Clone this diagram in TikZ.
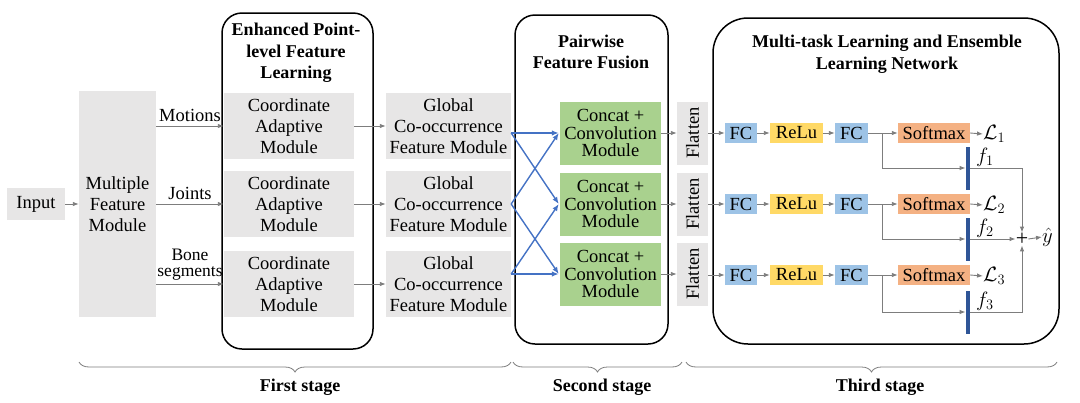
\documentclass[tikz,border=0pt]{standalone}
\usepackage{fontspec}
\setmainfont{Liberation Serif}
\usetikzlibrary{arrows.meta,decorations.pathreplacing,calc}
\definecolor{boxgray}{RGB}{231,230,230}
\definecolor{cgreen}{RGB}{169,209,142}
\definecolor{cblue}{RGB}{157,195,230}
\definecolor{cyellow}{RGB}{255,217,102}
\definecolor{corange}{RGB}{244,177,131}
\definecolor{arrblue}{RGB}{68,114,196}
\definecolor{bardark}{RGB}{47,85,151}
\definecolor{arrgray}{RGB}{125,125,125}
\begin{document}
\begin{tikzpicture}[x=1pt,y=-1pt,
  every node/.style={font=\fontsize{18.5}{21}\selectfont, inner sep=0pt, align=center},
  container/.style={draw=black, line width=1.5pt},
  titletext/.style={font=\bfseries\fontsize{18}{21.5}\selectfont},
  gbox/.style={fill=boxgray},
  greenbox/.style={fill=cgreen, minimum width=101, minimum height=63, font=\fontsize{18.5}{17.5}\selectfont},
  flatbox/.style={fill=boxgray, minimum width=31, minimum height=63},
  fcbox/.style={fill=cblue, minimum height=20},
  relubox/.style={fill=cyellow, minimum height=20, minimum width=53},
  smbox/.style={fill=corange, minimum height=20, minimum width=72},
  fbar/.style={fill=bardark, minimum width=4.5},
  mathlabel/.style={font=\fontsize{22}{22}\selectfont},
  garr/.style={draw=arrgray, line width=0.9pt, -{Latex[length=6pt,width=4.5pt]}},
  barr/.style={draw=arrblue, line width=1.4pt, -{Latex[length=7pt,width=5.5pt]}},
  stagebrace/.style={draw=arrgray, line width=0.8pt, decorate, decoration={brace, mirror, amplitude=10pt}},
  stagelabel/.style={font=\bfseries\fontsize{18}{21}\selectfont}
]
\useasboundingbox (0,0) rectangle (1080,402);

% containers
\draw[container, rounded corners=20] (222,13) rectangle (373,349);
\draw[container, rounded corners=20] (515,15) rectangle (668,344);
\draw[container, rounded corners=35] (713,18) rectangle (1059,344);

\node[titletext] (t1) at (296,53) {Enhanced Point-\\level Feature\\Learning};
\node[titletext] (t2) at (591,52) {Pairwise\\Feature Fusion};
\node[titletext] (t3) at (887,54) {Multi-task Learning and Ensemble\\Learning Network};

% first stage
\node[gbox, minimum width=58, minimum height=32] (inp) at (36,204) {Input};
\node[gbox, minimum width=77, minimum height=226] (mfm) at (117.5,204) {Multiple\\Feature\\Module};
\draw[garr] (inp.east) -- (mfm.west);

\node[gbox, minimum width=130, minimum height=66] (cam1) at (289,126) {Coordinate\\Adaptive\\Module};
\node[gbox, minimum width=130, minimum height=66] (cam2) at (289,204) {Coordinate\\Adaptive\\Module};
\node[gbox, minimum width=130, minimum height=66] (cam3) at (289,284) {Coordinate\\Adaptive\\Module};

\draw[garr] (mfm.east |- cam1) -- node[above=4pt] (lm) {Motions} (cam1.west);
\draw[garr] (mfm.east |- cam2) -- node[above=4pt] (lj) {Joints} (cam2.west);
\draw[garr] (mfm.east |- cam3) -- node[above=3pt, font=\fontsize{17.5}{16}\selectfont] (lb) {Bone\\segments} (cam3.west);

\node[gbox, minimum width=125, minimum height=66] (gc1) at (448.5,126) {Global\\Co-occurrence\\Feature Module};
\node[gbox, minimum width=125, minimum height=66] (gc2) at (448.5,204) {Global\\Co-occurrence\\Feature Module};
\node[gbox, minimum width=125, minimum height=66] (gc3) at (448.5,284) {Global\\Co-occurrence\\Feature Module};
\draw[garr] (cam1.east) -- (gc1.west);
\draw[garr] (cam2.east) -- (gc2.west);
\draw[garr] (cam3.east) -- (gc3.west);

% second stage
\node[greenbox] (g1) at (610.5,133) {Concat +\\Convolution\\Module};
\node[greenbox] (g2) at (610.5,204) {Concat +\\Convolution\\Module};
\node[greenbox] (g3) at (610.5,274) {Concat +\\Convolution\\Module};

\coordinate (s1) at (gc1.east |- g1.west);
\coordinate (s2) at (gc2.east |- g2.west);
\coordinate (s3) at (gc3.east |- g3.west);
\draw[barr] (s1) -- ($(g1.west)+(-1,0)$);
\draw[barr] (s1) -- ($(g2.west)+(-1,0)$);
\draw[barr] (s2) -- ($(g1.west)+(-1,0)$);
\draw[barr] (s2) -- ($(g3.west)+(-1,0)$);
\draw[barr] (s3) -- ($(g2.west)+(-1,0)$);
\draw[barr] (s3) -- ($(g3.west)+(-1,0)$);

\node[flatbox] (fl1) at (692.5,133) {\rotatebox{90}{Flatten}};
\node[flatbox] (fl2) at (692.5,204) {\rotatebox{90}{Flatten}};
\node[flatbox] (fl3) at (692.5,274) {\rotatebox{90}{Flatten}};
\draw[garr] (g1.east) -- (fl1.west);
\draw[garr] (g2.east) -- (fl2.west);
\draw[garr] (g3.east) -- (fl3.west);

% third stage rows
\foreach \r/\y/\by in {1/133/168, 2/204/239, 3/275/312}{
  \node[fcbox, minimum width=32] (fca\r) at (741,\y) {FC};
  \node[relubox] (relu\r) at (796.5,\y) {ReLu};
  \node[fcbox, minimum width=33] (fcb\r) at (851.5,\y) {FC};
  \node[smbox] (sm\r) at (934,\y) {Softmax};
  \node[mathlabel, anchor=west] (L\r) at (983,\y+1) {$\mathcal{L}_\r$};
  \node[fbar, minimum height=43] (bar\r) at (968,\by) {};
  \node[font=\fontsize{20}{20}\selectfont] (f\r) at (985,\by-11) {$f_\r$};
  \coordinate (br\r) at (882,\y);
  \draw[garr] (fl\r.east |- fca\r) -- (fca\r.west);
  \draw[garr] (fca\r.east) -- (relu\r.west);
  \draw[garr] (relu\r.east) -- (fcb\r.west);
  \draw[garr] (fcb\r.east) -- (sm\r.west);
  \draw[garr] (br\r) |- (bar\r.west);
  \draw[garr] (sm\r.east) -- (L\r.west);
}

\node[font=\fontsize{22}{22}\selectfont] (plus) at (1022,239) {+};
\node[mathlabel, anchor=west] (yhat) at (1042,237) {$\hat{y}$};
\draw[garr] (bar1.east) -| (plus.north);
\draw[garr] (bar2.east) -- (plus.west);
\draw[garr] (bar3.east) -| (plus.south);
\draw[garr] (plus.east) -- (yhat.west);

% stage braces
\draw[stagebrace] (79,362) -- (511,362);
\draw[stagebrace] (513,362) -- (682,362);
\draw[stagebrace] (686,362) -- (1057,362);
\node[stagelabel] (st1) at (300,387) {First stage};
\node[stagelabel] (st2) at (602,387) {Second stage};
\node[stagelabel] (st3) at (880,387) {Third stage};
\end{tikzpicture}
\end{document}
